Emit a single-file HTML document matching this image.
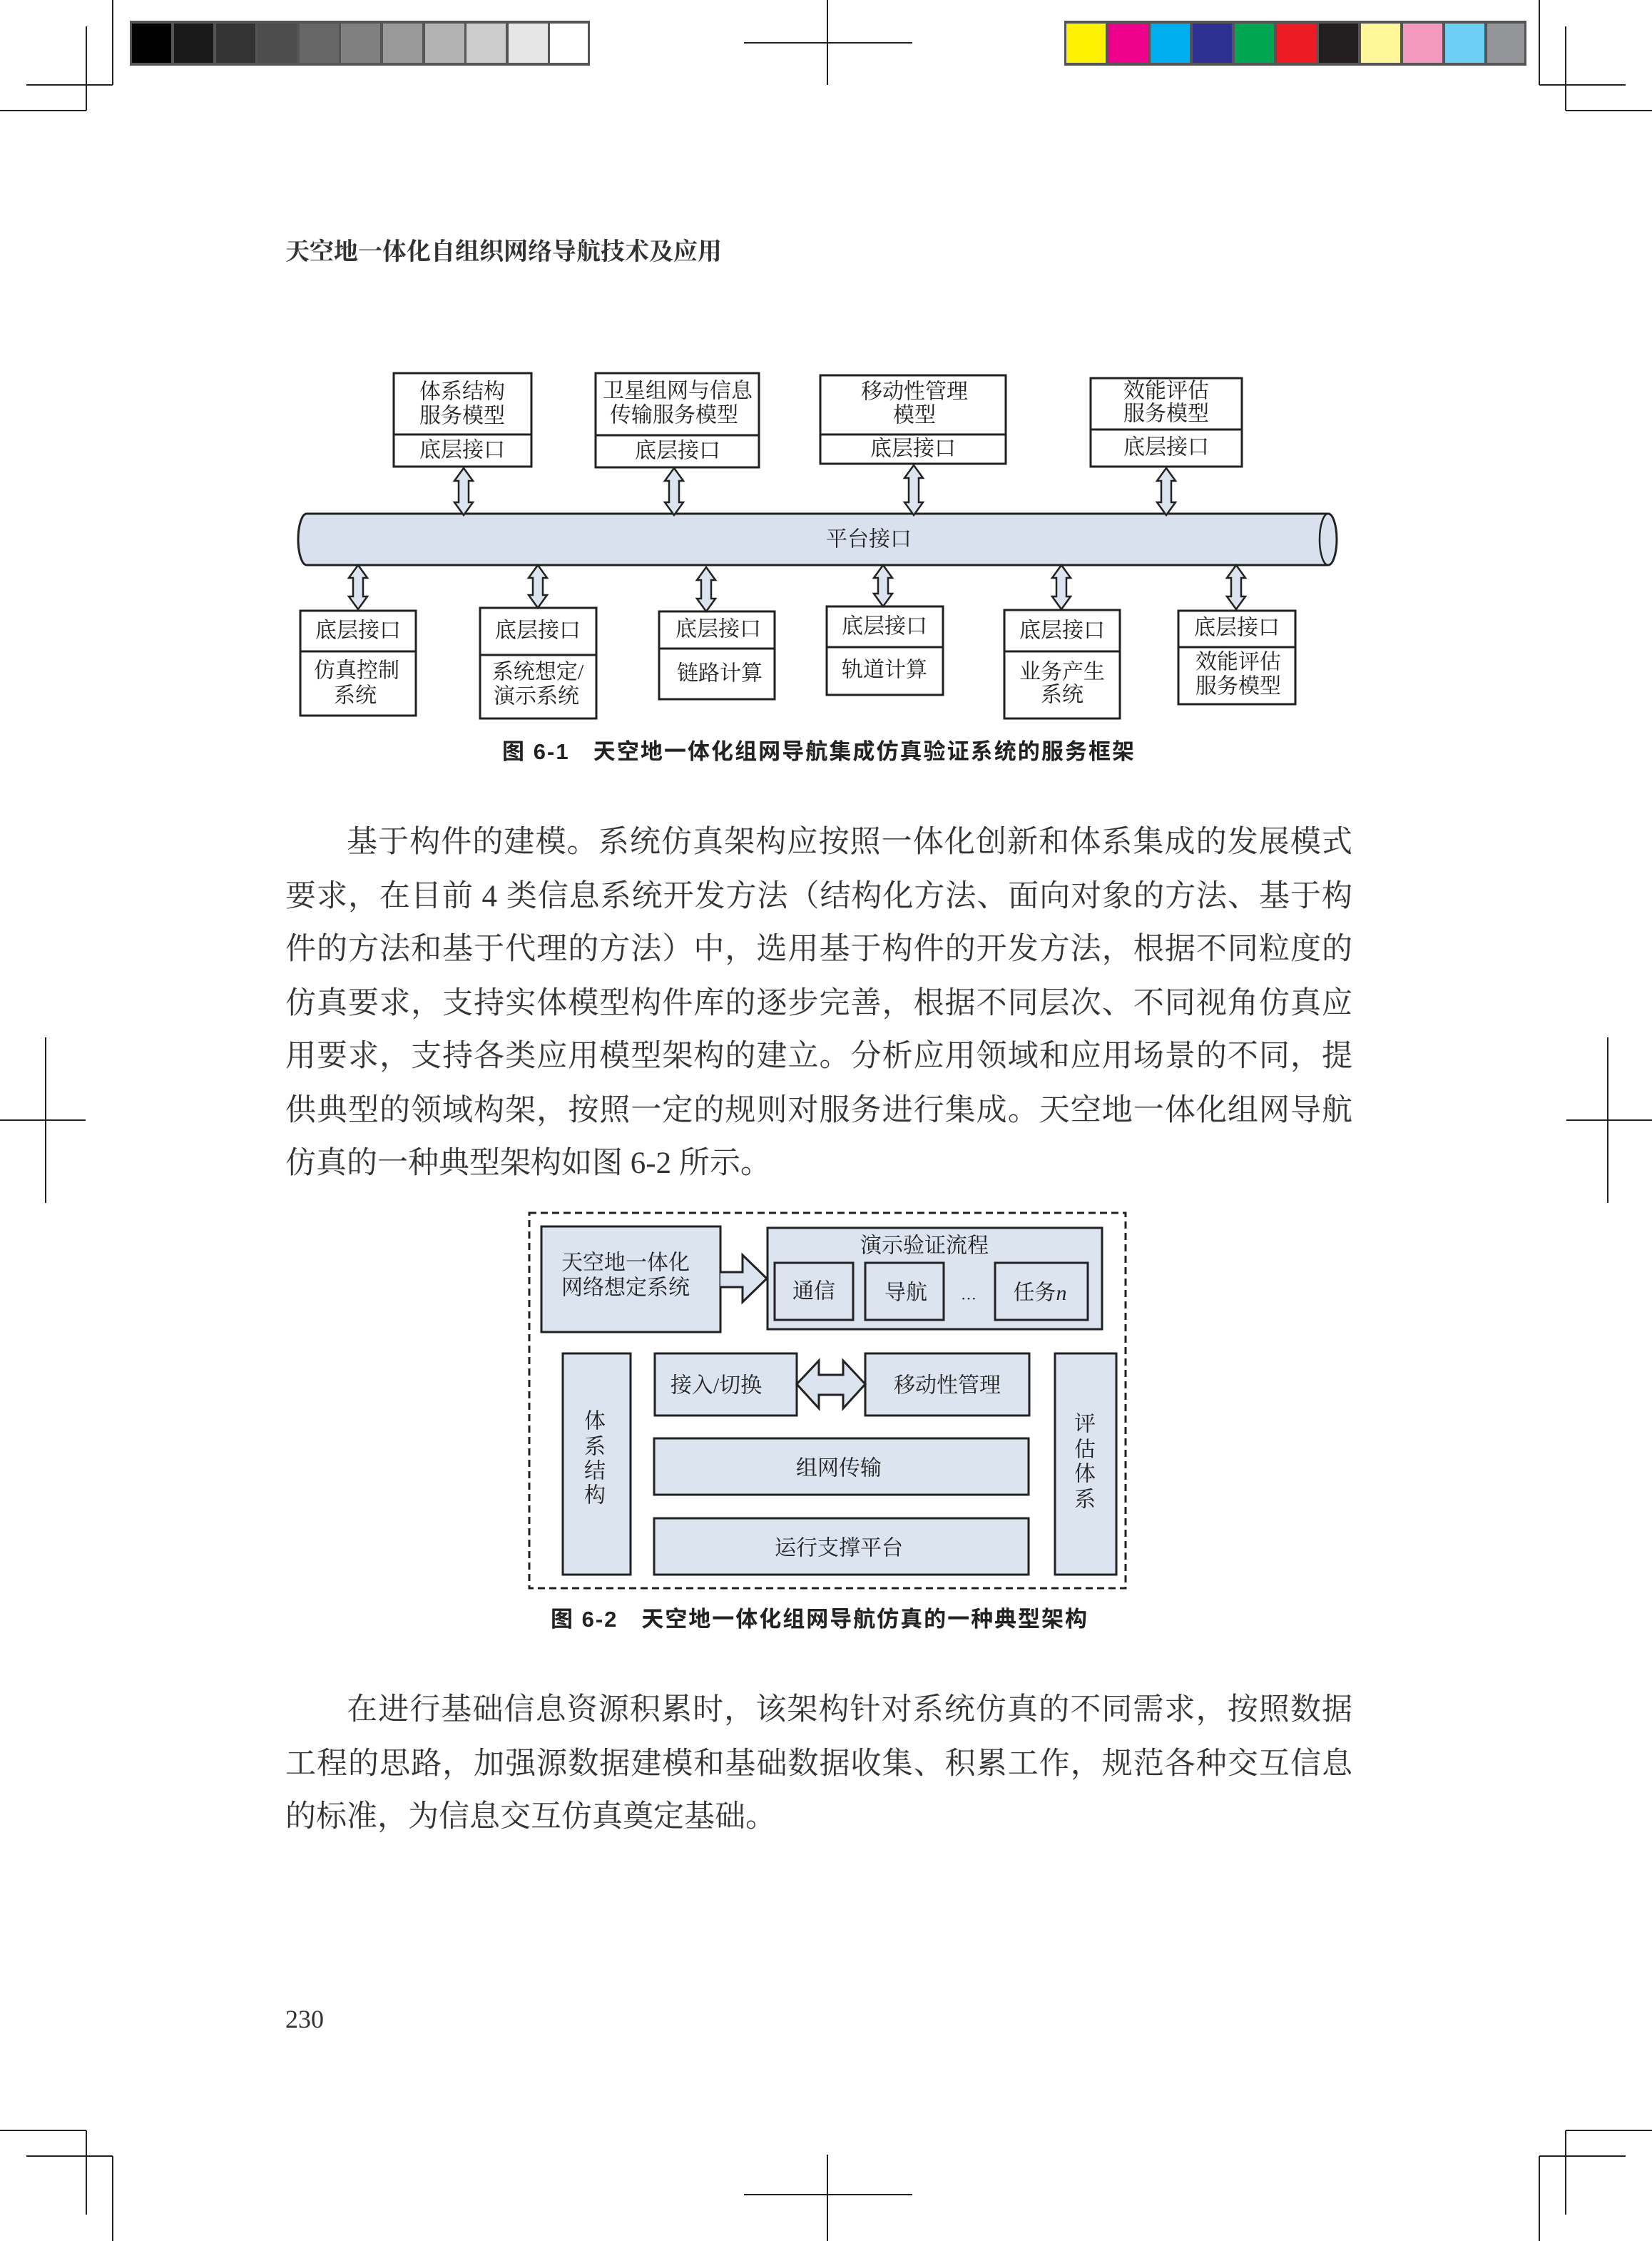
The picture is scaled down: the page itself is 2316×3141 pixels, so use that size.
<!DOCTYPE html>
<html><head><meta charset="utf-8"><style>
html,body{margin:0;padding:0;background:#fff;}
svg{display:block;}
.s{font-family:"Liberation Serif","Noto Serif CJK SC",serif;}
.b{font-family:"Liberation Sans","Noto Sans CJK SC",sans-serif;font-weight:bold;}
</style></head><body>
<svg width="2316" height="3141" viewBox="0 0 2316 3141" xmlns="http://www.w3.org/2000/svg">
<g stroke="#222" stroke-width="2" fill="none">
<path d="M158 0V119M37 119H158M121 37V155M0 155H121"/>
<path d="M2158 0V119M2158 119H2279M2195 37V155M2195 155H2316"/>
<path d="M1160 0V119M1043 60H1279"/>
<path d="M158 3141V3022M37 3022H158M121 3104V2986M0 2986H121"/>
<path d="M2158 3141V3022M2158 3022H2279M2195 3104V2986M2195 2986H2316"/>
<path d="M1160 3141V3020M1043 3076H1279"/>
<path d="M64 1454V1686M0 1570H120"/>
<path d="M2254 1454V1686M2196 1570H2316"/>
</g>
<rect x="182" y="29" width="645" height="63" fill="#555"/>
<g stroke="none">
<rect x="185" y="33" width="55" height="55" fill="#000"/>
<rect x="244" y="33" width="55" height="55" fill="#1a1a1a"/>
<rect x="303" y="33" width="55" height="55" fill="#333"/>
<rect x="361" y="33" width="55" height="55" fill="#4d4d4d"/>
<rect x="420" y="33" width="55" height="55" fill="#666"/>
<rect x="478" y="33" width="55" height="55" fill="#808080"/>
<rect x="537" y="33" width="55" height="55" fill="#999"/>
<rect x="596" y="33" width="55" height="55" fill="#b3b3b3"/>
<rect x="654" y="33" width="55" height="55" fill="#ccc"/>
<rect x="713" y="33" width="55" height="55" fill="#e6e6e6"/>
<rect x="771" y="33" width="53" height="55" fill="#fff"/>
</g>
<rect x="1492" y="29" width="648" height="63" fill="#555"/>
<g>
<rect x="1495" y="33" width="55" height="55" fill="#fff200"/>
<rect x="1554" y="33" width="55" height="55" fill="#ec008c"/>
<rect x="1613" y="33" width="55" height="55" fill="#00aeef"/>
<rect x="1672" y="33" width="55" height="55" fill="#2e3192"/>
<rect x="1731" y="33" width="55" height="55" fill="#00a651"/>
<rect x="1790" y="33" width="55" height="55" fill="#ed1c24"/>
<rect x="1849" y="33" width="55" height="55" fill="#231f20"/>
<rect x="1908" y="33" width="55" height="55" fill="#fff799"/>
<rect x="1967" y="33" width="55" height="55" fill="#f49ac1"/>
<rect x="2026" y="33" width="55" height="55" fill="#6dcff6"/>
<rect x="2085" y="33" width="52" height="55" fill="#939598"/>
</g>
<text class="s" x="400" y="364" font-size="34" font-weight="bold" fill="#333">天空地一体化自组织网络导航技术及应用</text>

<g fill="#fff" stroke="#222" stroke-width="3">
<rect x="552" y="523" width="193" height="131"/><line x1="552" y1="609" x2="745" y2="609"/>
<rect x="835" y="523" width="229" height="132"/><line x1="835" y1="610" x2="1064" y2="610"/>
<rect x="1150" y="526" width="260" height="124"/><line x1="1150" y1="609" x2="1410" y2="609"/>
<rect x="1529" y="530" width="212" height="124"/><line x1="1529" y1="602" x2="1741" y2="602"/>
<rect x="421" y="856" width="162" height="147"/><line x1="421" y1="913" x2="583" y2="913"/>
<rect x="673" y="852" width="163" height="155"/><line x1="673" y1="918" x2="836" y2="918"/>
<rect x="924" y="857" width="162" height="123"/><line x1="924" y1="909" x2="1086" y2="909"/>
<rect x="1159" y="850" width="163" height="124"/><line x1="1159" y1="907" x2="1322" y2="907"/>
<rect x="1408" y="855" width="162" height="152"/><line x1="1408" y1="913" x2="1570" y2="913"/>
<rect x="1652" y="856" width="164" height="131"/><line x1="1652" y1="907" x2="1816" y2="907"/>
</g>
<path d="M430 720 L1862 720 A12 36 0 0 1 1862 792 L430 792 A12 36 0 0 1 430 720 Z" fill="#d9e1ee" stroke="#222" stroke-width="3"/>
<path d="M1862 720 A12 36 0 0 0 1862 792" fill="none" stroke="#222" stroke-width="2.5"/>
<g fill="#dce4f0" stroke="#222" stroke-width="2.5">
<path d="M650 656 l13 18 h-6 v30 h6 l-13 18 l-13 -18 h6 v-30 h-6 Z"/>
<path d="M945 656 l13 18 h-6 v30 h6 l-13 18 l-13 -18 h6 v-30 h-6 Z"/>
<path d="M1281 652 l13 18 h-6 v34 h6 l-13 18 l-13 -18 h6 v-34 h-6 Z"/>
<path d="M1635 656 l13 18 h-6 v30 h6 l-13 18 l-13 -18 h6 v-30 h-6 Z"/>
<path d="M502 792 l13 18 h-6 v26 h6 l-13 18 l-13 -18 h6 v-26 h-6 Z"/>
<path d="M754 792 l13 18 h-6 v24 h6 l-13 18 l-13 -18 h6 v-24 h-6 Z"/>
<path d="M990 795 l13 18 h-6 v26 h6 l-13 18 l-13 -18 h6 v-26 h-6 Z"/>
<path d="M1238 792 l13 18 h-6 v22 h6 l-13 18 l-13 -18 h6 v-22 h-6 Z"/>
<path d="M1488 792 l13 18 h-6 v26 h6 l-13 18 l-13 -18 h6 v-26 h-6 Z"/>
<path d="M1733 792 l13 18 h-6 v26 h6 l-13 18 l-13 -18 h6 v-26 h-6 Z"/>
</g>
<g class="s" font-size="30" fill="#222" text-anchor="middle" dominant-baseline="central">
<text x="648" y="549">体系结构</text><text x="648" y="583">服务模型</text><text x="648" y="631">底层接口</text>
<text x="950" y="548">卫星组网与信息</text><text x="945" y="582">传输服务模型</text><text x="950" y="632">底层接口</text>
<text x="1282" y="549">移动性管理</text><text x="1282" y="582">模型</text><text x="1280" y="629">底层接口</text>
<text x="1635" y="548">效能评估</text><text x="1635" y="580">服务模型</text><text x="1635" y="627">底层接口</text>
<text x="1218" y="756">平台接口</text>
<text x="502" y="884">底层接口</text><text x="500" y="940">仿真控制</text><text x="498" y="975">系统</text>
<text x="754" y="884">底层接口</text><text x="754" y="942">系统想定/</text><text x="752" y="976">演示系统</text>
<text x="1007" y="882">底层接口</text><text x="1009" y="944">链路计算</text>
<text x="1240" y="878">底层接口</text><text x="1240" y="939">轨道计算</text>
<text x="1489" y="884">底层接口</text><text x="1489" y="942">业务产生</text><text x="1489" y="974">系统</text>
<text x="1734" y="880">底层接口</text><text x="1736" y="928">效能评估</text><text x="1736" y="962">服务模型</text>
</g>
<text class="b" x="704" y="1064" font-size="31" textLength="886" lengthAdjust="spacing" fill="#222">图 6-1　天空地一体化组网导航集成仿真验证系统的服务框架</text>

<g class="s" font-size="43" fill="#333">
<text x="486" y="1194" textLength="1410" lengthAdjust="spacing">基于构件的建模。系统仿真架构应按照一体化创新和体系集成的发展模式</text>
<text x="400" y="1270" textLength="1496" lengthAdjust="spacing">要求，在目前 4 类信息系统开发方法（结构化方法、面向对象的方法、基于构</text>
<text x="400" y="1344" textLength="1496" lengthAdjust="spacing">件的方法和基于代理的方法）中，选用基于构件的开发方法，根据不同粒度的</text>
<text x="400" y="1420" textLength="1496" lengthAdjust="spacing">仿真要求，支持实体模型构件库的逐步完善，根据不同层次、不同视角仿真应</text>
<text x="400" y="1494" textLength="1496" lengthAdjust="spacing">用要求，支持各类应用模型架构的建立。分析应用领域和应用场景的不同，提</text>
<text x="400" y="1570" textLength="1496" lengthAdjust="spacing">供典型的领域构架，按照一定的规则对服务进行集成。天空地一体化组网导航</text>
<text x="400" y="1644">仿真的一种典型架构如图 6-2 所示。</text>
</g>

<rect x="742" y="1700" width="836" height="526" fill="none" stroke="#222" stroke-width="3" stroke-dasharray="10,6"/>
<g fill="#dce4f0" stroke="#222" stroke-width="3">
<rect x="759" y="1719" width="251" height="148"/>
<rect x="1076" y="1721" width="469" height="142"/>
<rect x="1086" y="1770" width="110" height="80"/>
<rect x="1213" y="1770" width="110" height="80"/>
<rect x="1395" y="1770" width="130" height="80"/>
<rect x="789" y="1897" width="95" height="310"/>
<rect x="1479" y="1897" width="86" height="310"/>
<rect x="918" y="1897" width="199" height="87"/>
<rect x="1213" y="1897" width="230" height="87"/>
<rect x="917" y="2016" width="525" height="79"/>
<rect x="917" y="2128" width="525" height="79"/>
<path d="M1010 1783 H1041 V1759 L1075 1792 L1041 1825 V1804 H1010"/>
<path d="M1117 1940 L1148 1907 V1927 H1182 V1907 L1213 1940 L1182 1974 V1955 H1148 V1974 Z"/>
</g>
<g class="s" font-size="30" fill="#222" text-anchor="middle" dominant-baseline="central">
<text x="877" y="1770">天空地一体化</text><text x="877" y="1805">网络想定系统</text>
<text x="1296" y="1746">演示验证流程</text>
<text x="1141" y="1810">通信</text><text x="1270" y="1812">导航</text>
<text x="1358" y="1814" font-size="22">…</text>
<text x="1458" y="1812">任务<tspan font-style="italic">n</tspan></text>
<text x="1004" y="1942">接入/切换</text><text x="1328" y="1942">移动性管理</text>
<text x="1176" y="2058">组网传输</text><text x="1176" y="2170">运行支撑平台</text>
<text x="834" y="1992">体</text><text x="834" y="2028">系</text><text x="834" y="2062">结</text><text x="834" y="2096">构</text>
<text x="1521" y="1996">评</text><text x="1521" y="2032">估</text><text x="1521" y="2066">体</text><text x="1521" y="2102">系</text>
</g>
<text class="b" x="772" y="2280" font-size="31" textLength="752" lengthAdjust="spacing" fill="#222">图 6-2　天空地一体化组网导航仿真的一种典型架构</text>

<g class="s" font-size="43" fill="#333">
<text x="486" y="2410" textLength="1410" lengthAdjust="spacing">在进行基础信息资源积累时，该架构针对系统仿真的不同需求，按照数据</text>
<text x="400" y="2486" textLength="1496" lengthAdjust="spacing">工程的思路，加强源数据建模和基础数据收集、积累工作，规范各种交互信息</text>
<text x="400" y="2560">的标准，为信息交互仿真奠定基础。</text>
</g>
<text class="s" x="400" y="2842" font-size="36" fill="#333">230</text>
</svg>
</body></html>
